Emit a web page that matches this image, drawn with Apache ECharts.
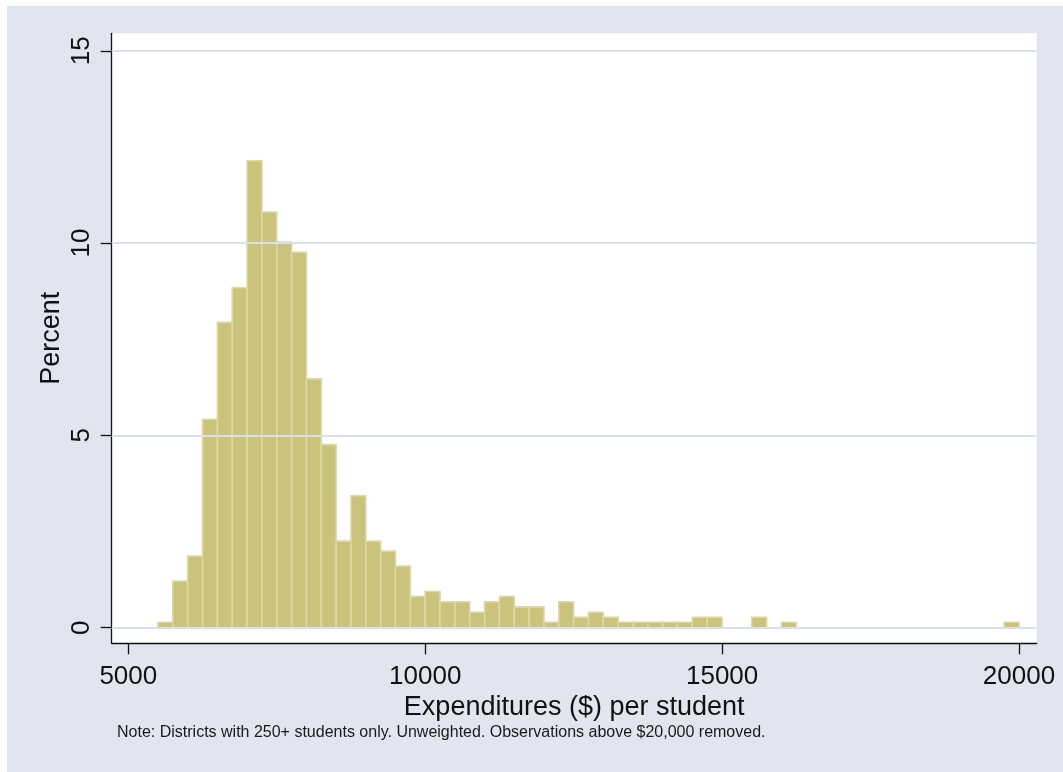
<!DOCTYPE html>
<html>
<head>
<meta charset="utf-8">
<script src="https://cdn.jsdelivr.net/npm/echarts@6/dist/echarts.min.js"></script>
<style>
html,body{margin:0;padding:0;background:#fff;}
#chart{width:1063px;height:772px;}
</style>
</head>
<body>
<div id="chart"></div>
<script>
// Histogram bins: lower edge of each bin ($), bin width 250
const binWidth = 250;
const binStart = [
  5500, 5750, 6000, 6250, 6500, 6750, 7000, 7250, 7500, 7750,
  8000, 8250, 8500, 8750, 9000, 9250, 9500, 9750, 10000, 10250,
  10500, 10750, 11000, 11250, 11500, 11750, 12000, 12250, 12500, 12750,
  13000, 13250, 13500, 13750, 14000, 14250, 14500, 14750, 15000, 15250,
  15500, 15750, 16000, 16250, 16500, 16750, 17000, 17250, 17500, 17750,
  18000, 18250, 18500, 18750, 19000, 19250, 19500, 19750
];
// Percent of districts in each bin
const percent = [
  0.14, 1.21, 1.86, 5.42, 7.94, 8.84, 12.14, 10.81, 10.03, 9.76,
  6.47, 4.76, 2.25, 3.43, 2.25, 1.99, 1.60, 0.81, 0.94, 0.67,
  0.67, 0.40, 0.67, 0.81, 0.54, 0.54, 0.14, 0.67, 0.27, 0.40,
  0.27, 0.14, 0.14, 0.14, 0.14, 0.14, 0.27, 0.27, 0, 0,
  0.27, 0, 0.14, 0, 0, 0, 0, 0, 0, 0,
  0, 0, 0, 0, 0, 0, 0, 0.14
];
const xTicks = [5000, 10000, 15000, 20000];
const yTicks = [0, 5, 10, 15];
const xTitle = 'Expenditures ($) per student';
const yTitle = 'Percent';
const note = 'Note: Districts with 250+ students only. Unweighted. Observations above $20,000 removed.';

const FONT = '"Liberation Sans", Arial, sans-serif';
const histData = binStart.map((s, i) => [s, s + binWidth, percent[i]]);

const chart = echarts.init(document.getElementById('chart'), null, {renderer: 'canvas'});
chart.setOption({
  backgroundColor: '#ffffff',
  animation: false,
  graphic: [
    {type: 'rect', left: 7, top: 6, z: -10,
     shape: {width: 1063 - 7, height: 772 - 6},
     style: {fill: '#E0E5F0'}},
    {type: 'text', left: 117, top: 725, z: 10,
     style: {text: note, fill: '#1a1a1a', font: '16px ' + FONT}}
  ],
  grid: {
    left: 111.7, top: 33.3, right: 26.3, bottom: 128.7,
    show: true, backgroundColor: '#ffffff', borderWidth: 0
  },
  xAxis: {
    type: 'value', min: 4720, max: 20298,
    name: xTitle, nameLocation: 'middle', nameGap: 51, nameMoveOverlap: false,
    nameTextStyle: {fontSize: 27, color: '#111', fontFamily: FONT},
    axisLine: {show: true, onZero: false, lineStyle: {color: '#111', width: 1.3}},
    axisTick: {show: true, length: 11, customValues: xTicks, lineStyle: {color: '#111', width: 1.3}},
    axisLabel: {customValues: xTicks, fontSize: 26, color: '#111', fontFamily: FONT, margin: 21,
                formatter: v => String(v)},
    splitLine: {show: false}
  },
  yAxis: {
    type: 'value', min: -0.406, max: 15.455,
    name: yTitle, nameLocation: 'middle', nameGap: 47, nameRotate: 90, nameMoveOverlap: false,
    nameTextStyle: {fontSize: 27, color: '#111', fontFamily: FONT},
    axisLine: {show: true, onZero: false, lineStyle: {color: '#111', width: 1.3}},
    axisTick: {show: true, length: 11, customValues: yTicks, lineStyle: {color: '#111', width: 1.3}},
    axisLabel: {customValues: yTicks, rotate: 90, fontSize: 26, color: '#111', fontFamily: FONT, margin: 17,
                formatter: v => String(v)},
    splitLine: {show: false}
  },
  series: [
    {
      type: 'line', data: [], z: 1, silent: true,
      markLine: {
        silent: true, symbol: 'none', animation: false,
        label: {show: false},
        lineStyle: {color: '#D8E0EC', width: 2, type: 'solid'},
        data: yTicks.map(v => ({yAxis: v}))
      }
    },
    {
      type: 'custom', z: 2,
      data: histData,
      encode: {x: [0, 1], y: 2},
      renderItem: function (params, api) {
        const x0 = api.value(0), x1 = api.value(1), y = api.value(2);
        if (!y) return null;
        const p0 = api.coord([x0, y]);
        const p1 = api.coord([x1, 0]);
        return {
          type: 'rect',
          shape: {x: p0[0], y: p0[1], width: p1[0] - p0[0], height: p1[1] - p0[1]},
          style: {fill: '#CAC37C', stroke: '#DDD8A4', lineWidth: 1.6}
        };
      }
    }
  ]
});
</script>
</body>
</html>
